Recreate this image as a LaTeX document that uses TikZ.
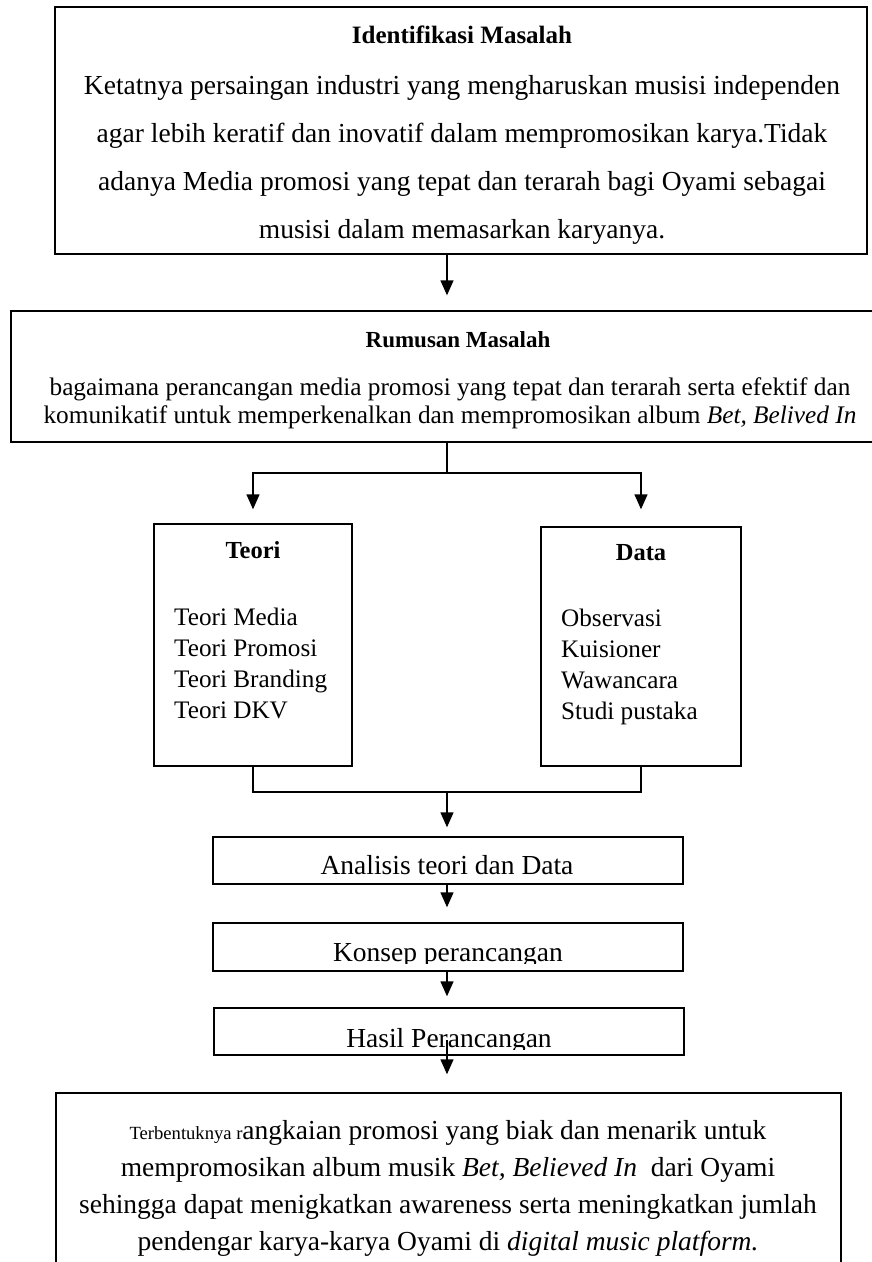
\documentclass[tikz,border=0pt]{standalone}
\usepackage{fontspec}
\setmainfont{Liberation Serif}
\usetikzlibrary{arrows.meta,positioning}

\begin{document}
\begin{tikzpicture}[x=1pt, y=-1pt,
    box/.style={draw, line width=1.4pt, inner sep=0pt},
    head/.style={inner sep=0pt, font=\bfseries\fontsize{25}{30}\selectfont},
    txt/.style={inner sep=0pt, align=center, font=\fontsize{27.5}{33}\selectfont},
    list/.style={inner sep=0pt, align=left, anchor=west, font=\fontsize{25.2}{31}\selectfont},
    link/.style={line width=1.4pt},
    arr/.style={-{Triangle[length=15pt,width=13pt]}, line width=1.4pt}
]
\useasboundingbox (0,0) rectangle (871,1262);
\coordinate (axis) at (447,0);

\node[box, minimum width=812pt, minimum height=247pt] (ident) at (461,130.5) {};
\node[head] (identhead) at (462,35) {Identifikasi Masalah};
\node[txt, font=\fontsize{27.5}{48}\selectfont] (identtext) at (462,160) {Ketatnya persaingan industri yang mengharuskan musisi independen\\agar lebih keratif dan inovatif dalam mempromosikan karya.Tidak\\adanya Media promosi yang tepat dan terarah bagi Oyami sebagai\\musisi dalam memasarkan karyanya.};

\node[box, minimum width=863pt, minimum height=131pt] (rumus) at (442.5,376.5) {};
\node[head, font=\bfseries\fontsize{23}{28}\selectfont] (rumushead) at (458,340) {Rumusan Masalah};
\node[txt, font=\fontsize{25.3}{28}\selectfont] (rumustext) at (450,403) {bagaimana perancangan media promosi yang tepat dan terarah serta efektif dan\\komunikatif untuk memperkenalkan dan mempromosikan album \textit{Bet, Belived In}};

\node[box, minimum width=198pt, minimum height=242pt] (teori) at (253,645) {};
\node[head, font=\bfseries\fontsize{24.5}{30}\selectfont] (teorihead) at (253,550) {Teori};
\node[list] (teorilist) at (174,663.5) {Teori Media\\Teori Promosi\\Teori Branding\\Teori DKV};

\node[box, minimum width=200pt, minimum height=239pt] (data) at (641,646.5) {};
\node[head, font=\bfseries\fontsize{24.5}{30}\selectfont] (datahead) at (641,553) {Data};
\node[list] (datalist) at (561,666.5) {Observasi\\Kuisioner\\Wawancara\\Studi pustaka};

\node[box, minimum width=470pt, minimum height=47pt] (anal) at (448,860.5) {};
\node[txt, anchor=base] (analtext) at (447,874) {Analisis teori dan Data};

\node[box, minimum width=470pt, minimum height=48pt] (konsep) at (448,947) {};
\begin{scope}
\clip (213,923) rectangle (683,963);
\node[txt, anchor=base] (konseptext) at (448,961) {Konsep perancangan};
\end{scope}

\node[box, minimum width=470pt, minimum height=47pt] (hasil) at (449,1031.5) {};
\begin{scope}
\clip (214,1008) rectangle (684,1049);
\node[txt, anchor=base] (hasiltext) at (449,1047) {Hasil Perancangan};
\end{scope}

\node[box, minimum width=785pt, minimum height=200pt] (akhir) at (448.5,1193) {};
\node[txt, font=\fontsize{27.5}{37}\selectfont] (akhirtext) at (448,1188) {{\fontsize{18.6}{37}\selectfont Terbentuknya r}angkaian promosi yang biak dan menarik untuk\\mempromosikan album musik \textit{Bet, Believed In}\ \ dari Oyami\\sehingga dapat menigkatkan awareness serta meningkatkan jumlah\\pendengar karya-karya Oyami di \textit{digital music platform.}};

\coordinate (split) at (447,473);
\coordinate (join) at (447,792);

\draw[arr, shorten >=15pt] (ident.south -| axis) -- (rumus.north -| axis);
\draw[link] (rumus.south -| axis) -- (split);
\draw[arr, shorten >=14pt] (split) -| (teori.north);
\draw[arr, shorten >=17pt] (split) -| (data.north);
\draw[link] (teori.south) |- (join) -| (data.south);
\draw[arr, shorten >=9pt] (join) -- (anal.north -| axis);
\draw[arr, shorten >=15pt] (anal.south -| axis) -- (konsep.north -| axis);
\draw[arr, shorten >=11pt] (konsep.south -| axis) -- (hasil.north -| axis);
\draw[arr, shorten >=18pt] (hasiltext.center -| axis) -- (akhir.north -| axis);
\end{tikzpicture}
\end{document}
